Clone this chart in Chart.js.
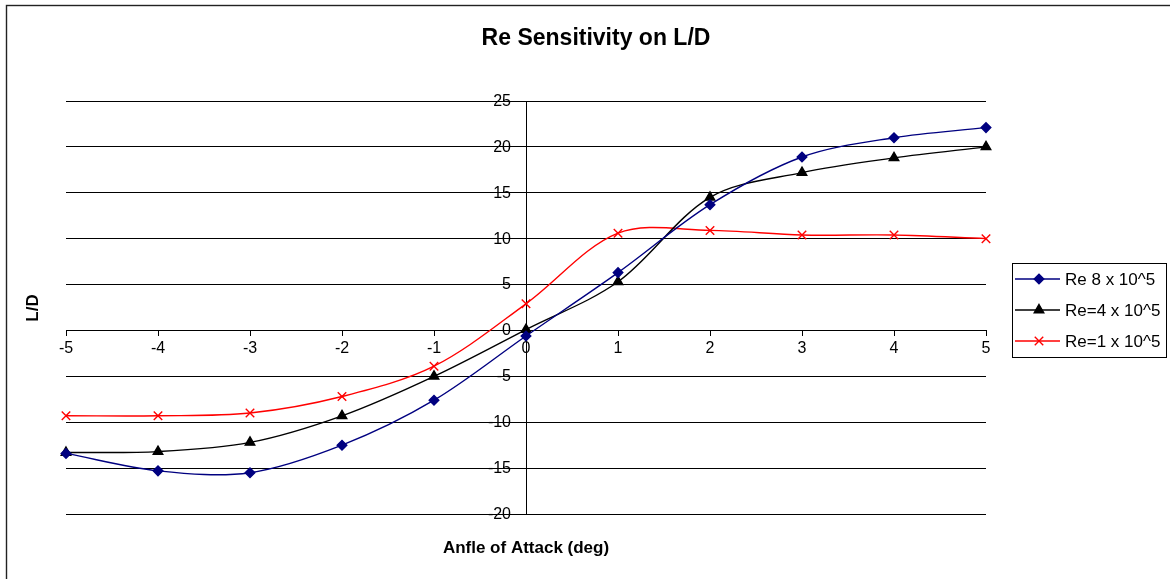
<!DOCTYPE html>
<html>
<head>
<meta charset="utf-8">
<script src="https://cdn.jsdelivr.net/npm/chart.js@4/dist/chart.umd.min.js"></script>
<style>
  html, body { margin: 0; padding: 0; background: #fff; }
  #wrap { width: 1170px; height: 579px; position: relative; }
</style>
</head>
<body>
<div id="wrap"><canvas id="c" width="1170" height="579"></canvas></div>
<script>
// Angle of attack (deg)
const alpha = [-5, -4, -3, -2, -1, 0, 1, 2, 3, 4, 5];
// L/D at each angle, per Reynolds number
const ldRe8 = [-13.4, -15.3, -15.5, -12.5, -7.6, -0.6, 6.3, 13.7, 18.9, 21.0, 22.1];
const ldRe4 = [-13.3, -13.2, -12.2, -9.3, -5.0, 0.1, 5.3, 14.5, 17.2, 18.8, 20.0];
const ldRe1 = [-9.3, -9.3, -9.0, -7.2, -3.9, 2.9, 10.6, 10.9, 10.4, 10.4, 10.0];
const seriesNames = ['Re 8 x 10^5', 'Re=4 x 10^5', 'Re=1 x 10^5'];
const chartTitle = 'Re Sensitivity on L/D';
const xTitle = 'Anfle of Attack (deg)';
const yTitle = 'L/D';

const FONT = '"Liberation Sans", Arial, sans-serif';

function pts(vals) {
  return alpha.map((a, i) => ({ x: a, y: vals[i] }));
}

const styles = [
  { color: '#000080', pointStyle: 'rectRot', radius: 4.8 },
  { color: '#000000', pointStyle: 'triangle', radius: 5.5 },
  { color: '#ff0000', pointStyle: 'crossRot', radius: 6 }
];

const seriesData = [ldRe8, ldRe4, ldRe1];

const datasets = seriesData.map((vals, i) => ({
  label: seriesNames[i],
  data: pts(vals),
  borderColor: styles[i].color,
  backgroundColor: styles[i].color,
  borderWidth: 1.4,
  pointStyle: styles[i].pointStyle,
  pointRadius: styles[i].radius,
  pointBorderWidth: 1.4,
  pointBorderColor: styles[i].color,
  pointBackgroundColor: styles[i].color,
  tension: 0.33,
  clip: false
}));

// Frame, titles, value labels of the crossing y axis, and legend box
const decorations = {
  id: 'decorations',
  beforeDraw(chart) {
    const ctx = chart.ctx;
    ctx.save();
    ctx.fillStyle = '#ffffff';
    ctx.fillRect(0, 0, chart.width, chart.height);
    ctx.strokeStyle = '#222';
    ctx.lineWidth = 1.4;
    ctx.strokeRect(6.5, 5.5, chart.width + 20, chart.height + 20);
    ctx.restore();
  },
  afterDraw(chart) {
    const ctx = chart.ctx;
    const area = chart.chartArea;
    const ys = chart.scales.y;
    const xs = chart.scales.x;
    ctx.save();
    ctx.fillStyle = '#000';
    ctx.textAlign = 'center';
    ctx.textBaseline = 'middle';
    ctx.font = 'bold 23px ' + FONT;
    ctx.fillText(chartTitle, 596, 39);
    ctx.font = 'bold 17px ' + FONT;
    ctx.fillText(xTitle, (area.left + area.right) / 2, 548);
    ctx.save();
    ctx.translate(33, 308);
    ctx.rotate(-Math.PI / 2);
    ctx.fillText(yTitle, 0, 0);
    ctx.restore();

    // y tick labels, placed left of the y axis where it crosses x = 0
    const axisX = xs.getPixelForValue(0);
    ctx.font = '16px ' + FONT;
    ctx.textAlign = 'right';
    ys.ticks.forEach(t => {
      ctx.fillText(String(t.value), axisX - 15, ys.getPixelForValue(t.value) + 0.5);
    });
    ctx.restore();

    // legend
    const lx = 1012, ly = 263, lw = 154, lh = 94;
    ctx.save();
    ctx.fillStyle = '#fff';
    ctx.fillRect(lx, ly, lw, lh);
    ctx.strokeStyle = '#000';
    ctx.lineWidth = 1;
    ctx.strokeRect(lx + 0.5, ly + 0.5, lw, lh);
    ctx.font = '17px ' + FONT;
    ctx.textAlign = 'left';
    ctx.textBaseline = 'middle';
    chart.data.datasets.forEach((ds, i) => {
      const y = ly + 16 + i * 31;
      ctx.strokeStyle = ds.borderColor;
      ctx.lineWidth = 1.4;
      ctx.beginPath();
      ctx.moveTo(lx + 3, y);
      ctx.lineTo(lx + 48, y);
      ctx.stroke();
      ctx.fillStyle = ds.borderColor;
      Chart.helpers.drawPoint(ctx, {
        pointStyle: ds.pointStyle,
        radius: ds.pointRadius,
        rotation: 0,
        borderWidth: 1.4
      }, lx + 27, y);
      ctx.fillStyle = '#000';
      ctx.fillText(ds.label, lx + 53, y + 1);
    });
    ctx.restore();
  }
};

new Chart(document.getElementById('c'), {
  type: 'line',
  data: { datasets },
  options: {
    responsive: false,
    animation: false,
    devicePixelRatio: 1,
    layout: { padding: { left: 66, right: 184, top: 101, bottom: 65 } },
    plugins: {
      legend: { display: false },
      title: { display: false },
      tooltip: { enabled: false }
    },
    scales: {
      x: {
        type: 'linear',
        position: { y: 0 },
        min: -5,
        max: 5,
        grid: {
          display: true,
          drawOnChartArea: false,
          drawTicks: true,
          tickLength: 5,
          color: '#000',
          lineWidth: 1
        },
        border: { display: true, color: '#000', width: 1 },
        ticks: {
          stepSize: 1,
          color: '#000',
          font: { family: FONT, size: 16 },
          padding: 4,
          maxRotation: 0
        }
      },
      y: {
        type: 'linear',
        position: { x: 0 },
        min: -20,
        max: 25,
        grid: {
          display: true,
          drawOnChartArea: true,
          drawTicks: true,
          tickLength: 5,
          color: '#000',
          lineWidth: 1
        },
        border: { display: true, color: '#000', width: 1 },
        ticks: {
          stepSize: 5,
          display: false
        }
      }
    }
  },
  plugins: [decorations]
});
</script>
</body>
</html>
